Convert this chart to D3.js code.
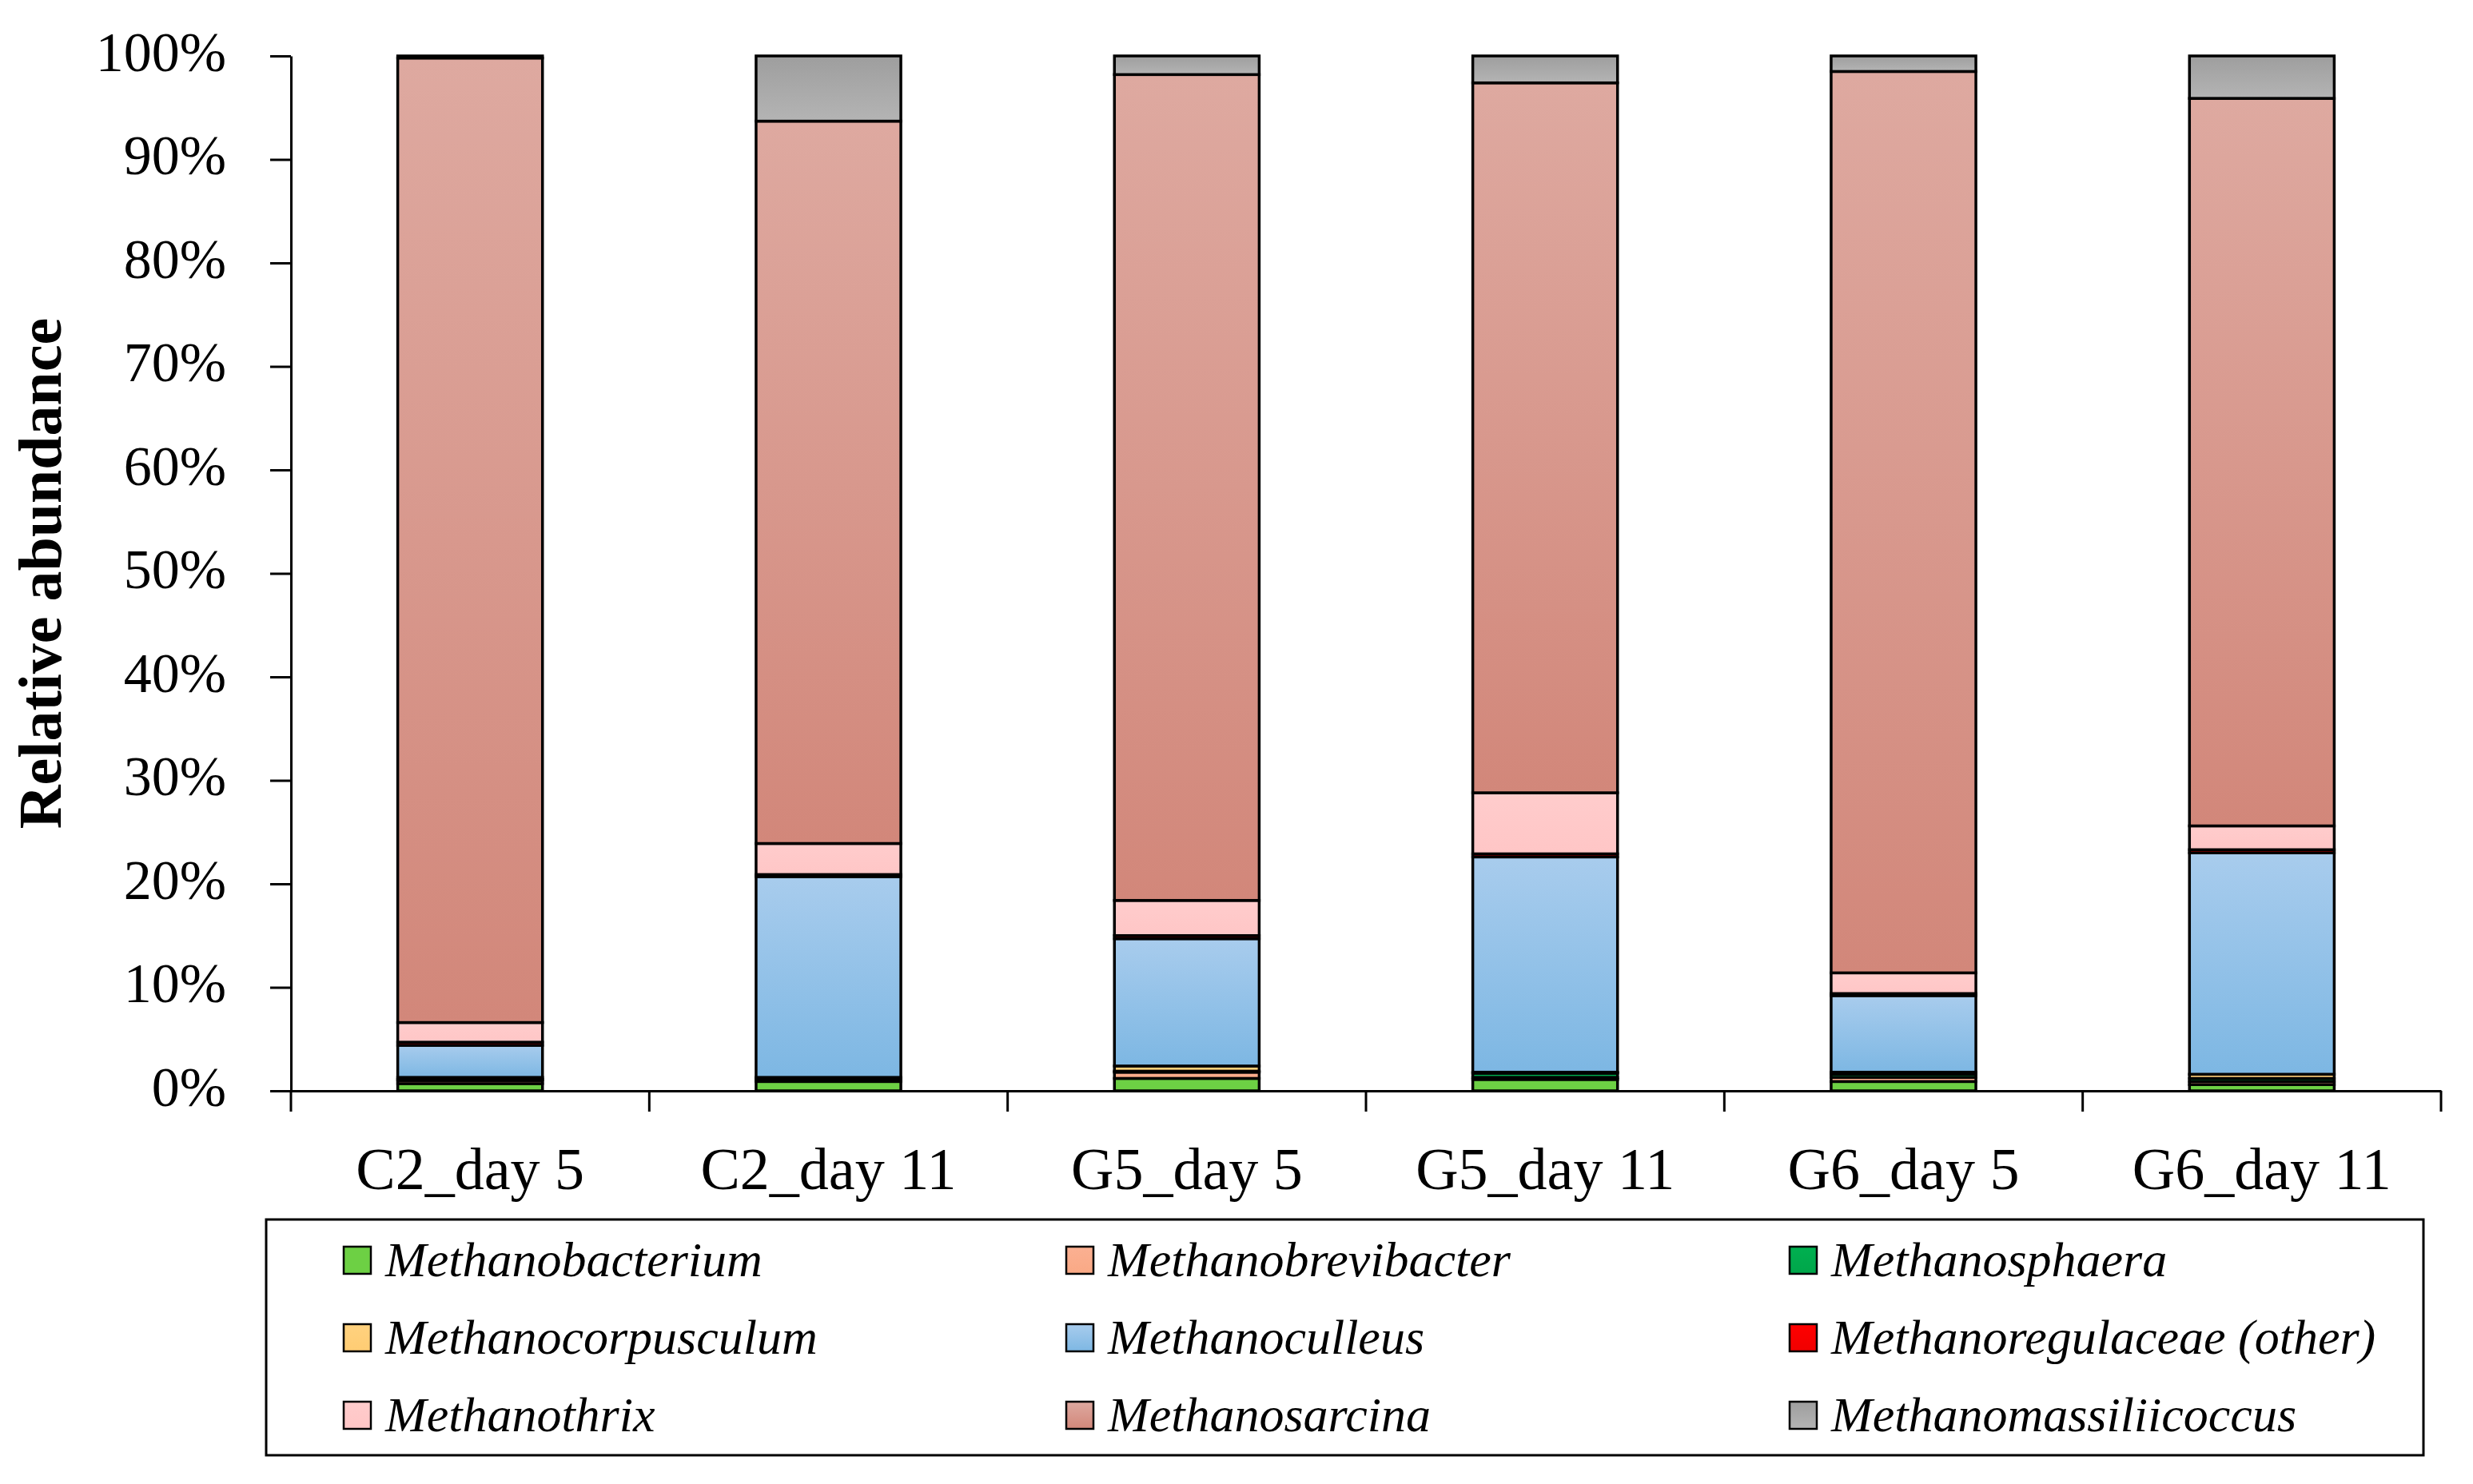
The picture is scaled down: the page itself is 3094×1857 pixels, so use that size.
<!DOCTYPE html>
<html>
<head>
<meta charset="utf-8">
<script src="https://cdn.jsdelivr.net/npm/d3@7"></script>
<style>
  body { margin: 0; background: #fff; }
  text { font-family: "Liberation Serif", "Times New Roman", serif; fill: #000; }
</style>
</head>
<body>
<svg id="chart"></svg>
<script>
// samples along the x axis
const samples = ['C2_day 5', 'C2_day 11', 'G5_day 5', 'G5_day 11', 'G6_day 5', 'G6_day 11'];

// genera, bottom to top of each stack (same order as legend)
const genera = ['Methanobacterium', 'Methanobrevibacter', 'Methanosphaera',
  'Methanocorpusculum', 'Methanoculleus', 'Methanoregulaceae (other)',
  'Methanothrix', 'Methanosarcina', 'Methanomassiliicoccus'];

// relative abundance (%) per sample
const methanobacterium   = [0.7, 0.9, 1.2, 1.1, 0.9, 0.6];
const methanobrevibacter = [0.3, 0.1, 0.6, 0.2, 0.4, 0.3];
const methanosphaera     = [0.1, 0.2, 0.1, 0.4, 0.3, 0.3];
const methanocorpusculum = [0.2, 0.1, 0.5, 0.1, 0.2, 0.4];
const methanoculleus     = [3.1, 19.4, 12.3, 20.8, 7.4, 21.4];
const methanoregulaceae  = [0.3, 0.2, 0.3, 0.3, 0.2, 0.3];
const methanothrix       = [1.9, 3.0, 3.4, 5.9, 2.0, 2.3];
const methanosarcina     = [93.2, 69.8, 79.8, 68.6, 87.1, 70.3];
const methanomassilii    = [0.2, 6.3, 1.8, 2.6, 1.5, 4.1];

const yTicks = [0, 10, 20, 30, 40, 50, 60, 70, 80, 90, 100];

// fill colours (top, bottom of the gradient)
const palette = [
  ['#6dd044', '#6dd044'],
  ['#fbb092', '#f9a985'],
  ['#00b050', '#00a64a'],
  ['#ffd27f', '#ffcc73'],
  ['#a8cced', '#7db7e3'],
  ['#ff0000', '#f00000'],
  ['#ffcccc', '#ffc6c6'],
  ['#dea9a0', '#d2877a'],
  ['#9e9e9e', '#b4b4b4']
];

const seriesValues = [methanobacterium, methanobrevibacter, methanosphaera,
  methanocorpusculum, methanoculleus, methanoregulaceae, methanothrix,
  methanosarcina, methanomassilii];

const table = samples.map((s, i) => {
  const row = {sample: s};
  genera.forEach((g, j) => { row[g] = seriesValues[j][i]; });
  return row;
});

const W = 3094, H = 1857;
const margin = {top: 70, right: 40, bottom: 492, left: 364};
const width = 3054 - margin.left;
const height = 1365 - margin.top;

const svg = d3.select('#chart').attr('width', W).attr('height', H);

const defs = svg.append('defs');
palette.forEach((c, i) => {
  const grad = defs.append('linearGradient')
      .attr('id', 'g' + i)
      .attr('x1', 0).attr('y1', 0).attr('x2', 0).attr('y2', 1);
  grad.append('stop').attr('offset', '0%').attr('stop-color', c[0]);
  grad.append('stop').attr('offset', '100%').attr('stop-color', c[1]);
});

const chart = svg.append('g')
    .attr('transform', `translate(${margin.left},${margin.top})`);

const x = d3.scaleBand().domain(samples).range([0, width]).padding(0);
const y = d3.scaleLinear().domain([0, 100]).range([height, 0]);
const barW = x.bandwidth() * 0.404;

const stacked = d3.stack().keys(genera)(table);

// bars
chart.selectAll('.layer')
  .data(stacked)
  .join('g')
    .attr('class', 'layer')
    .attr('fill', (d, i) => `url(#g${i})`)
  .selectAll('rect')
  .data(d => d)
  .join('rect')
    .attr('x', d => x(d.data.sample) + (x.bandwidth() - barW) / 2)
    .attr('y', d => y(d[1]))
    .attr('width', barW)
    .attr('height', d => y(d[0]) - y(d[1]))
    .attr('stroke', '#000')
    .attr('stroke-width', 3.5);

// y axis
const yAxis = d3.axisLeft(y)
    .tickValues(yTicks)
    .tickFormat(d => d + '%')
    .tickSize(26)
    .tickSizeOuter(0)
    .tickPadding(55);

const yAxisG = chart.append('g').call(yAxis);
yAxisG.selectAll('path, line').attr('stroke', '#000').attr('stroke-width', 3);
yAxisG.selectAll('text')
    .attr('font-size', 70)
    .attr('font-family', '"Liberation Serif", serif')
    .attr('dy', '0.26em');

// x axis: labels centred, ticks on band boundaries
const xAxis = d3.axisBottom(x).tickSize(0).tickSizeOuter(0);
const xAxisG = chart.append('g')
    .attr('transform', `translate(0,${height})`)
    .call(xAxis);
xAxisG.select('.domain').attr('stroke', '#000').attr('stroke-width', 3);
xAxisG.selectAll('text')
    .attr('font-size', 74)
    .attr('font-family', '"Liberation Serif", serif')
    .attr('y', 123)
    .attr('dy', 0);

const bounds = samples.map(s => x(s)).concat([width]);
xAxisG.selectAll('.bound')
  .data(bounds)
  .join('line')
    .attr('class', 'bound')
    .attr('x1', d => d).attr('x2', d => d)
    .attr('y1', 0).attr('y2', 26)
    .attr('stroke', '#000')
    .attr('stroke-width', 3);

// y title
svg.append('text')
    .attr('transform', `translate(76,${margin.top + height / 2}) rotate(-90)`)
    .attr('text-anchor', 'middle')
    .attr('font-size', 76)
    .attr('font-weight', 'bold')
    .text('Relative abundance');

// legend
const legend = svg.append('g');
legend.append('rect')
    .attr('x', 333).attr('y', 1526)
    .attr('width', 3032 - 333).attr('height', 1821 - 1526)
    .attr('fill', 'none')
    .attr('stroke', '#000')
    .attr('stroke-width', 3);

const colX = [430, 1334, 2239];
const rowY = [1577, 1674, 1771];

const items = legend.selectAll('.item')
  .data(genera)
  .join('g')
    .attr('class', 'item')
    .attr('transform', (d, i) => `translate(${colX[i % 3]},${rowY[Math.floor(i / 3)]})`);

items.append('rect')
    .attr('x', 0).attr('y', -17)
    .attr('width', 34).attr('height', 34)
    .attr('fill', (d, i) => `url(#g${i})`)
    .attr('stroke', '#000')
    .attr('stroke-width', 2.5);

items.append('text')
    .attr('x', 52)
    .attr('dy', '0.33em')
    .attr('font-size', 62)
    .attr('font-style', 'italic')
    .text(d => d);
</script>
</body>
</html>
